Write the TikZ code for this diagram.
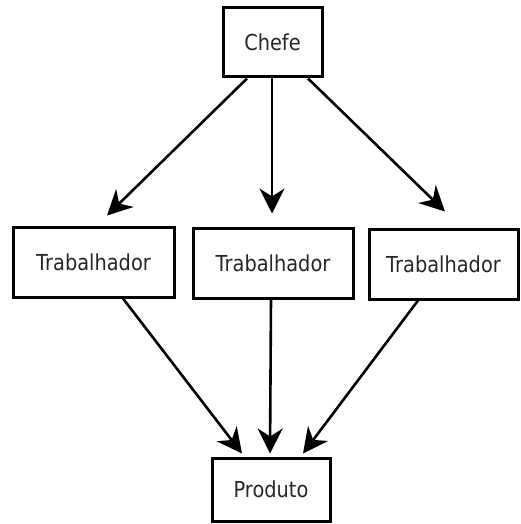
\documentclass[tikz,border=0pt]{standalone}
\usepackage{fontspec}
\setmainfont[FakeStretch=0.88]{DejaVu Sans}
\usetikzlibrary{arrows.meta}

\begin{document}
\begin{tikzpicture}[x=1pt, y=-1pt,
        box/.style={draw, line width=3pt, inner sep=0pt, minimum height=70pt, text=black!85, font=\fontsize{22}{26}\selectfont},
        arr/.style={line width=2.6pt, -{Stealth[length=25pt, width=25pt, inset=8pt]}}]
        \useasboundingbox (0, 0) rectangle (520, 524);
        % Boxes:
        \node[box, minimum width=99pt, minimum height=69pt](chefe) at (272.5, 42.5){Chefe};
        \node[box, minimum width=161pt](trab1) at (93.5, 262){Trabalhador};
        \node[box, minimum width=160pt](trab2) at (273, 263){Trabalhador};
        \node[box, minimum width=149pt](trab3) at (443.5, 264){Trabalhador};
        \node[box, minimum width=118pt, minimum height=63pt](produto) at (271, 489.5){Produto};
        % Arrows:
        \draw[arr] ([xshift=-25.5pt]chefe.south) -- ([xshift=13.5pt, yshift=10pt]trab1.north);
        \draw[arr] ([xshift=-0.5pt]chefe.south) -- ([xshift=-1pt, yshift=13pt]trab2.north);
        \draw[arr] ([xshift=35.5pt]chefe.south) -- ([xshift=1.5pt, yshift=16pt]trab3.north);
        \draw[arr] ([xshift=29.5pt]trab1.south) -- ([xshift=-29pt, yshift=3pt]produto.north);
        \draw[arr] ([xshift=-2pt]trab2.south) -- ([xshift=-1pt, yshift=3pt]produto.north);
        \draw[arr] ([xshift=-25.5pt]trab3.south) -- ([xshift=32pt, yshift=3pt]produto.north);
\end{tikzpicture}
\end{document}
